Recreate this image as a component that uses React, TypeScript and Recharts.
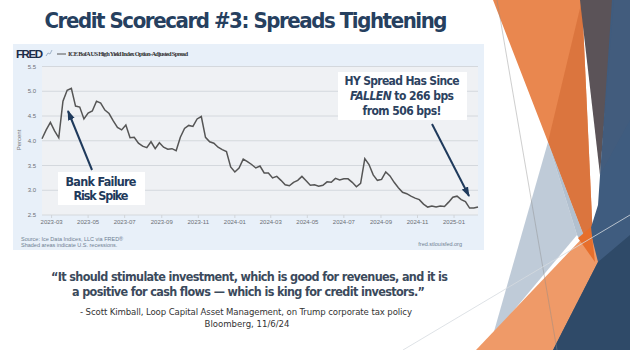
import React from 'react';
import { LineChart, Line, XAxis, YAxis, CartesianGrid } from 'recharts';

// ICE BofA US High Yield Index OAS, weekly, percent
const spread = [
  4.04, 4.22, 4.37, 4.20, 4.06, 4.80, 5.02, 5.06, 4.70, 4.68,
  4.44, 4.56, 4.60, 4.80, 4.76, 4.62, 4.55, 4.40, 4.27, 4.22,
  4.32, 4.06, 4.07, 3.95, 3.89, 3.86, 3.98, 3.84, 3.96, 3.87,
  3.83, 3.84, 3.80, 4.07, 4.25, 4.31, 4.29, 4.44, 4.49, 4.07,
  3.98, 3.95, 3.87, 3.82, 3.78, 3.47, 3.37, 3.45, 3.63, 3.58,
  3.52, 3.45, 3.49, 3.35, 3.35, 3.25, 3.28, 3.20, 3.11, 3.09,
  3.16, 3.20, 3.28, 3.19, 3.10, 3.11, 3.08, 3.10, 3.17, 3.16,
  3.24, 3.21, 3.23, 3.23, 3.16, 3.07, 3.14, 3.64, 3.52, 3.31,
  3.20, 3.22, 3.37, 3.29, 3.16, 3.05, 2.96, 2.93, 2.88, 2.84,
  2.81, 2.72, 2.66, 2.68, 2.66, 2.68, 2.67, 2.76, 2.86, 2.88,
  2.81, 2.77, 2.64, 2.64, 2.66,
];
const firstWeek = '2023-02-13';
const xTickLabels = [
  '2023-03', '2023-05', '2023-07', '2023-09', '2023-11', '2024-01',
  '2024-03', '2024-05', '2024-07', '2024-09', '2024-11', '2025-01',
];
const yTicks = [2.5, 3.0, 3.5, 4.0, 4.5, 5.0, 5.5];

const DAY = 86400000;
const start = Date.parse(firstWeek);
const data = spread.map((v, i) => ({ t: start + i * 7 * DAY, v }));
const xTicks = xTickLabels.map(s => Date.UTC(+s.slice(0, 4), +s.slice(5) - 1, 1));
const fmtMonth = (t: number) => {
  const d = new Date(t);
  return `${d.getUTCFullYear()}-${String(d.getUTCMonth() + 1).padStart(2, '0')}`;
};

const NAVY = '#1f3a5c';
const SLIDE_FONT = '"DejaVu Sans Condensed", Lato, "DejaVu Sans", sans-serif';
const FRED_FONT = '"Liberation Sans", Arial, sans-serif';

export default function App() {
  return (
    <div style={{ position: 'relative', width: 630, height: 350, background: '#fff', overflow: 'hidden' }}>
      <style>{`body{margin:0}`}</style>

      {/* FRED graph panel */}
      <div style={{ position: 'absolute', left: 13, top: 44, width: 471, height: 206, background: '#e8f0f9' }}>
        <LineChart width={471} height={206} data={data} margin={{ top: 22.5, right: 6, left: 5, bottom: 23 }}>
          <CartesianGrid vertical={false} fill="#eff1f4" stroke="#d4d8dd" strokeWidth={1} />
          <XAxis
            dataKey="t"
            type="number"
            domain={['dataMin', 'dataMax']}
            ticks={xTicks}
            tickFormatter={fmtMonth}
            height={12}
            axisLine={false}
            tickLine={{ stroke: '#d0d4d9' }}
            tickSize={3}
            tickMargin={2}
            tick={{ fontSize: 6, fill: '#6b6f75', fontFamily: FRED_FONT }}
          />
          <YAxis
            domain={[2.5, 5.5]}
            ticks={yTicks}
            tickFormatter={(v: number) => v.toFixed(1)}
            width={24}
            axisLine={false}
            tickLine={false}
            tickSize={0}
            tickMargin={6}
            tick={{ fontSize: 6, fill: '#6b6f75', fontFamily: FRED_FONT }}
          />
          <Line type="linear" dataKey="v" stroke="#555555" strokeWidth={1.5} dot={false} isAnimationActive={false} />
        </LineChart>
      </div>

      <svg width={630} height={350} style={{ position: 'absolute', left: 0, top: 0 }}>
        <defs>
          <marker id="ah" markerUnits="userSpaceOnUse" markerWidth={10} markerHeight={8} refX={9} refY={4} orient="auto">
            <path d="M0,0.5 L10,4 L0,7.5 z" fill={NAVY} />
          </marker>
        </defs>

        {/* right-side decoration */}
        <polygon points="493,0 582,0 594,262 548,142" fill="#e9874f" />
        <polygon points="548,142 582,0 594,262" fill="#d8723b" opacity={0.85} />
        <polygon points="580,0 614,0 600,175" fill="#5b5358" />
        <polygon points="612,0 630,0 630,350 553,350 598,205" fill="#3f5c7f" />
        <polygon points="600,175 614,0 630,0 630,120" fill="#455c7c" opacity={0.6} />
        <polygon points="548,142 493,335 577,235" fill="#b4c2d1" opacity={0.85} />
        <polygon points="577,235 548,142 594,262" fill="#9fb0c3" opacity={0.8} />
        <polygon points="476,350 590,230 598,262 553,350" fill="#ef9a68" />
        <polygon points="578,238 591,227 595,262" fill="#e76f2c" />
        <polygon points="553,350 598,262 630,235 630,350" fill="#2f4a68" />
        <line x1={497} y1={0} x2={557} y2={350} stroke="#8c8c8c" strokeWidth={0.6} opacity={0.7} />
        <line x1={403} y1={350} x2={630} y2={215} stroke="#d6dbe0" strokeWidth={0.8} />

        {/* title */}
        <text x={246} y={27.5} textAnchor="middle" fontFamily={SLIDE_FONT} fontWeight={700} fontSize={22}
          fill="#26405f" textLength={403}>Credit Scorecard #3: Spreads Tightening</text>

        {/* FRED header */}
        <text x={16} y={57.5} fontFamily={FRED_FONT} fontWeight={700} fontSize={11.5} fill="#1b2b48" textLength={27}>FRED</text>
        <polyline points="46,56 48,53 50,54 52,50" fill="none" stroke="#9fb3c9" strokeWidth={1} />
        <line x1={57} y1={54} x2={66} y2={54} stroke="#555" strokeWidth={1} />
        <text x={68} y={56} fontFamily='"Liberation Serif", serif' fontWeight={700} fontSize={6.5} fill="#333"
          textLength={120}>ICE BofA US High Yield Index Option-Adjusted Spread</text>
        <text x={0} y={0} transform="translate(21,140) rotate(-90)" textAnchor="middle" fontFamily={FRED_FONT}
          fontSize={6} fill="#777">Percent</text>
        <text x={21} y={241} fontFamily={FRED_FONT} fontSize={5.5} fill="#6f7f92">Source: Ice Data Indices, LLC via FRED®</text>
        <text x={21} y={247} fontFamily={FRED_FONT} fontSize={5.5} fill="#6f7f92">Shaded areas indicate U.S. recessions.</text>
        <text x={462} y={246} textAnchor="end" fontFamily={FRED_FONT} fontSize={5.5} fill="#6f7f92">fred.stlouisfed.org</text>

        {/* annotations */}
        <line x1={92} y1={170} x2={68} y2={111} stroke={NAVY} strokeWidth={2} markerEnd="url(#ah)" />
        <rect x={58} y={172} width={87} height={33} fill="#fff" />
        <g fontFamily={SLIDE_FONT} fontWeight={700} fontSize={12.5} fill={NAVY} textAnchor="middle">
          <text x={101} y={186} textLength={71}>Bank Failure</text>
          <text x={101} y={199.5} textLength={55}>Risk Spike</text>
        </g>

        <line x1={432} y1={124} x2={469} y2={196} stroke={NAVY} strokeWidth={2} markerEnd="url(#ah)" />
        <rect x={338} y={72} width={129} height={48} fill="#fff" />
        <g fontFamily={SLIDE_FONT} fontWeight={700} fontSize={12} fill="#2c4260" textAnchor="middle">
          <text x={402} y={85} textLength={115}>HY Spread Has Since</text>
          <text x={402} y={100} textLength={104}>
            <tspan fontStyle="italic">FALLEN</tspan> to 266 bps
          </text>
          <text x={402} y={115} textLength={79}>from 506 bps!</text>
        </g>

        {/* quote */}
        <g fontFamily={SLIDE_FONT} fontWeight={700} fontSize={12.5} fill="#3b4a5c" textAnchor="middle">
          <text x={249.5} y={281} textLength={397}>“It should stimulate investment, which is good for revenues, and it is</text>
          <text x={248.5} y={295.5} textLength={353}>a positive for cash flows — which is king for credit investors.”</text>
        </g>
        <g fontFamily={SLIDE_FONT} fontSize={9.5} fill="#333" textAnchor="middle">
          <text x={246} y={315} textLength={332}>- Scott Kimball, Loop Capital Asset Management, on Trump corporate tax policy</text>
          <text x={247} y={326.5} textLength={85}>Bloomberg, 11/6/24</text>
        </g>
      </svg>
    </div>
  );
}
